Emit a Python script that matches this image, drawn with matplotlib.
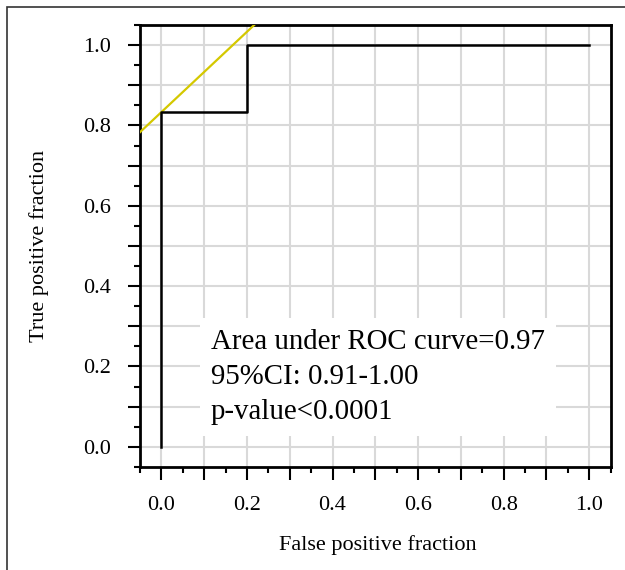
import matplotlib
matplotlib.use('Agg')
from matplotlib import pyplot as plt
from matplotlib.patches import Rectangle
from matplotlib.ticker import MultipleLocator, FuncFormatter

plt.rcParams['font.family'] = ['Liberation Serif', 'DejaVu Serif']

# ROC curve points
fpr = [0.0, 0.0, 0.2, 0.2, 1.0]
tpr = [0.0, 0.8333, 0.8333, 1.0, 1.0]
# tangent line at the best cut-off
cutoff_point = (0.0, 0.8333)
tangent_slope = 1.0

stats_lines = ['Area under ROC curve=0.97', '95%CI: 0.91-1.00', 'p-value<0.0001']

fig = plt.figure(figsize=(6.25, 5.7), dpi=100)
ax = fig.add_axes([0.224, 0.181, 0.753, 0.775])

# outer frame (cut off at right and bottom)
fig.patches.append(Rectangle((7 / 625, -0.1), 1.2, 1.1 - 7 / 570, transform=fig.transFigure,
                             fill=False, edgecolor='#333333', linewidth=1.2, clip_on=False))

ax.set_xlim(-0.05, 1.05)
ax.set_ylim(-0.05, 1.05)

for axis in (ax.xaxis, ax.yaxis):
    axis.set_major_locator(MultipleLocator(0.1))
    axis.set_minor_locator(MultipleLocator(0.05))
    axis.set_major_formatter(FuncFormatter(
        lambda v, pos: f'{v:.1f}' if round(v * 10) % 2 == 0 else ''))

ax.grid(True, which='major', color='#d9d9d9', linewidth=1.5, zorder=0)
ax.set_axisbelow(True)

ax.tick_params(which='major', length=9, width=1.5, pad=12, labelsize=16, direction='out')
ax.tick_params(which='minor', length=4.5, width=1.5, direction='out')
for sp in ax.spines.values():
    sp.set_linewidth(2)

ax.axline(cutoff_point, slope=tangent_slope, color='#d4c800', linewidth=1.6, zorder=3)
ax.plot(fpr, tpr, color='black', linewidth=1.8, zorder=4)

ax.text(0.116, 0.293, '\n'.join(stats_lines), fontsize=20.8, va='top', ha='left',
        linespacing=1.45, zorder=5,
        bbox=dict(facecolor='white', edgecolor='none', pad=8))

ax.set_xlabel('False positive fraction', fontsize=16)
ax.set_ylabel('True positive fraction', fontsize=16)
ax.xaxis.set_label_coords(0.505, -0.155)
ax.yaxis.set_label_coords(-0.193, 0.5)

fig.savefig('out.png', dpi=100)
